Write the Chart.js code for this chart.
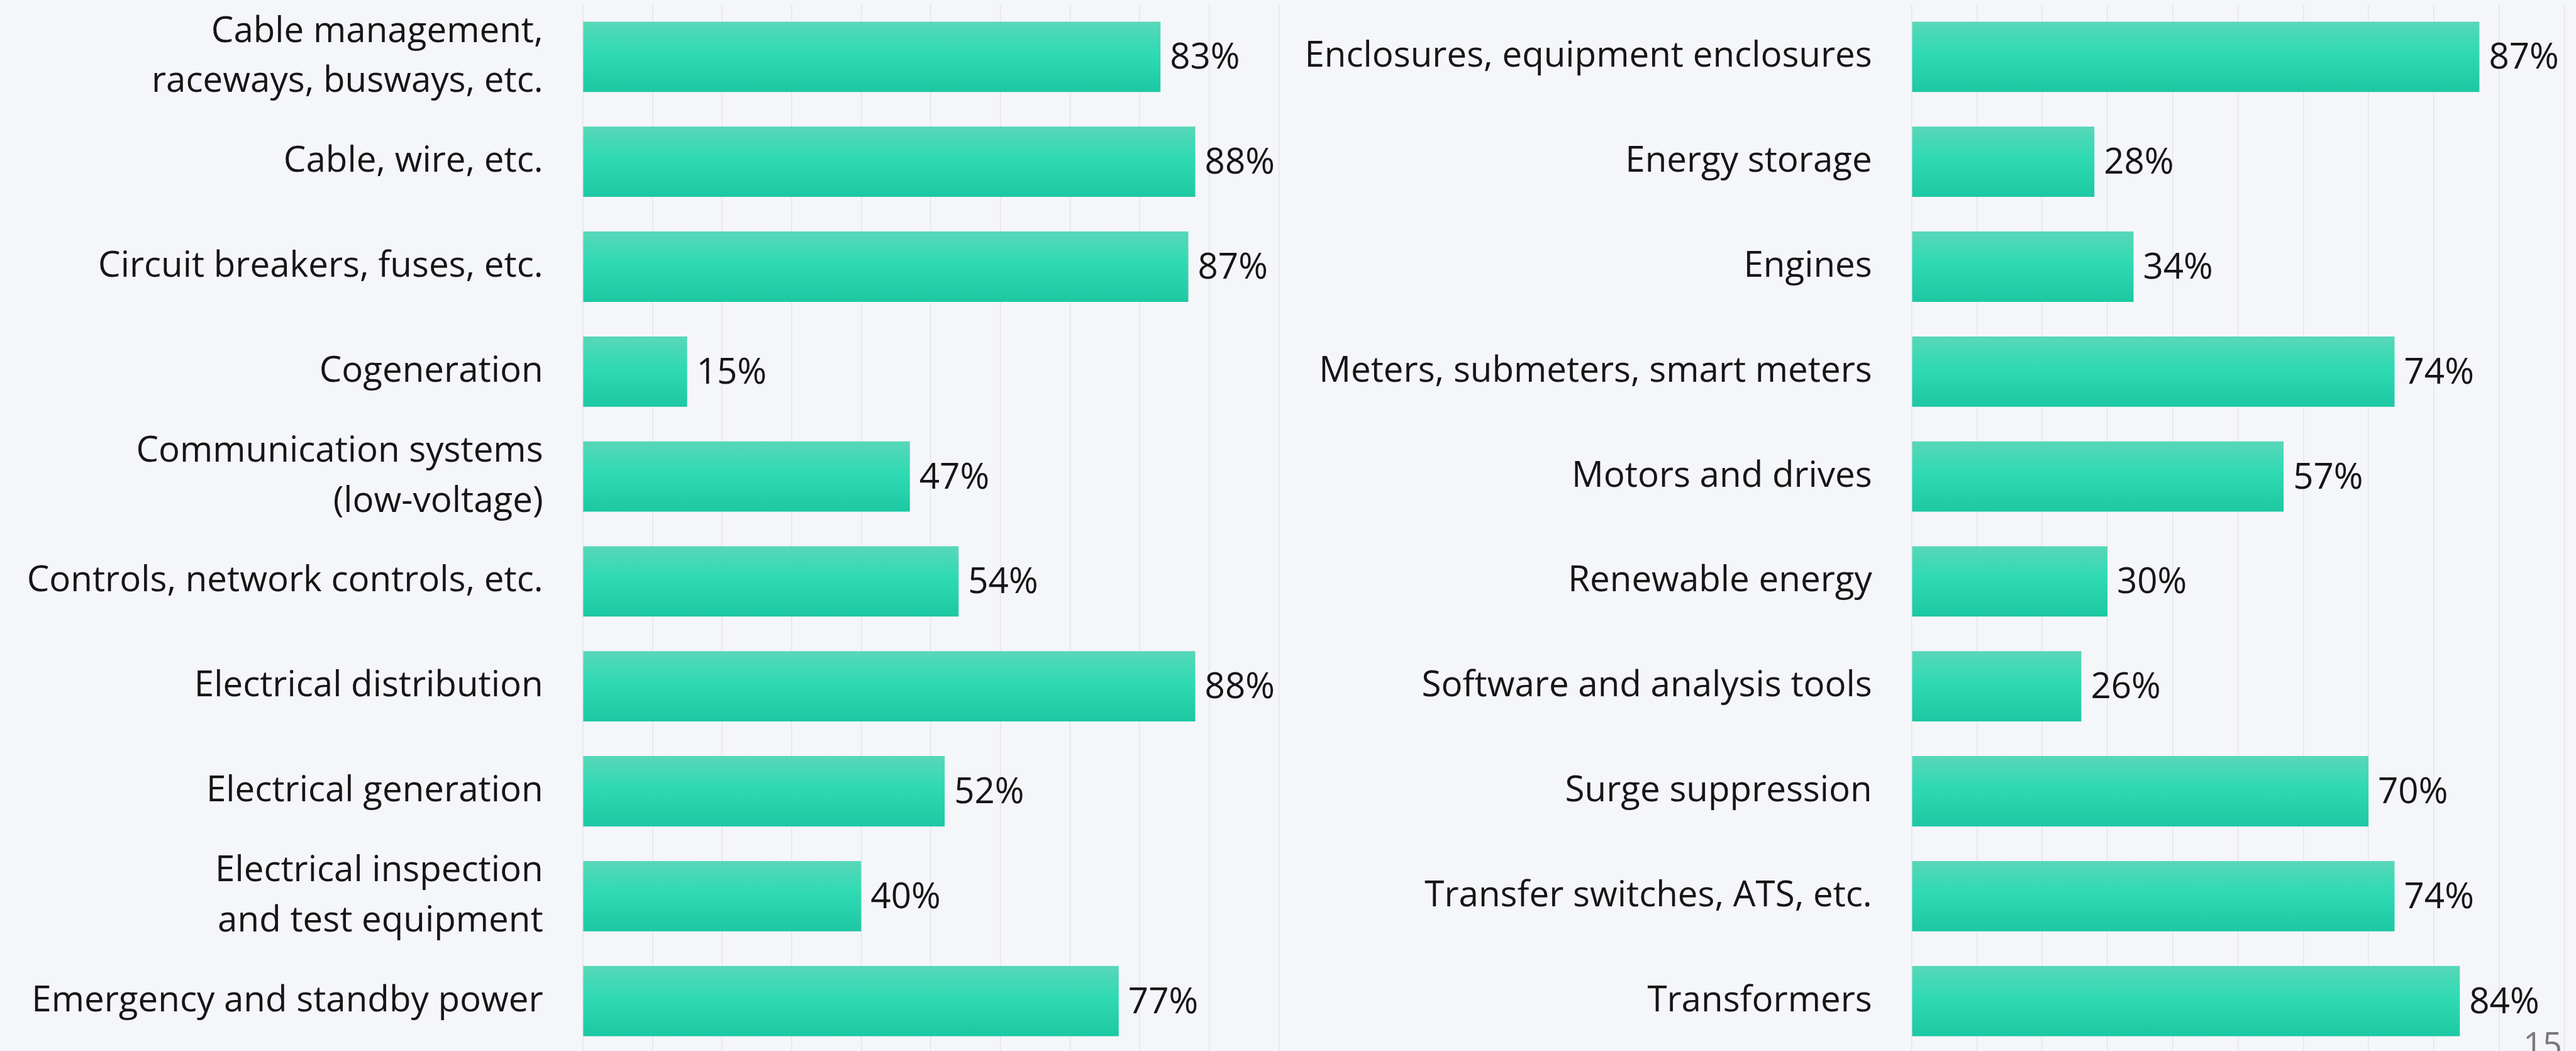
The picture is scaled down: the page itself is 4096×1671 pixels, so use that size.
<!DOCTYPE html>
<html>
<head>
<meta charset="utf-8">
<script src="https://cdn.jsdelivr.net/npm/chart.js@4/dist/chart.umd.min.js"></script>
<style>
  html, body { margin: 0; padding: 0; background: #f5f6fa; overflow: hidden; }
  body { width: 4096px; height: 1671px; position: relative; }
  .painel { position: absolute; top: 0; height: 1680px; }
  #painelEsq { left: 0; width: 2100px; }
  #painelDir { left: 1900px; width: 2196px; }
  #pagina { position: absolute; left: 4012px; top: 1632px; font-family: "Open Sans", sans-serif;
            font-size: 54px; color: #7a7a7a; line-height: 1; }
</style>
</head>
<body>
<div class="painel" id="painelEsq"><canvas id="graficoEsq"></canvas></div>
<div class="painel" id="painelDir"><canvas id="graficoDir"></canvas></div>
<div id="pagina">15</div>
<script>
// Dados do gráfico (lado esquerdo)
const categoriasEsq = [
    ['Cable management,', 'raceways, busways, etc.'],
    'Cable, wire, etc.',
    'Circuit breakers, fuses, etc.',
    'Cogeneration',
    ['Communication systems', '(low-voltage)'],
    'Controls, network controls, etc.',
    'Electrical distribution',
    'Electrical generation',
    ['Electrical inspection', 'and test equipment'],
    'Emergency and standby power'
];
const valoresEsq = [83, 88, 87, 15, 47, 54, 88, 52, 40, 77];

// Dados do gráfico (lado direito)
const categoriasDir = [
    'Enclosures, equipment enclosures',
    'Energy storage',
    'Engines',
    'Meters, submeters, smart meters',
    'Motors and drives',
    'Renewable energy',
    'Software and analysis tools',
    'Surge suppression',
    'Transfer switches, ATS, etc.',
    'Transformers'
];
const valoresDir = [87, 28, 34, 74, 57, 30, 26, 70, 74, 84];

const FONTE = '"Open Sans", "Noto Sans", sans-serif';
const TAM_FONTE = 56.5;
const COR_TEXTO = '#161616';
const LARGURA_BARRA = 0.67;

// Gradiente vertical de cada barra
function corBarra(ctx) {
    const chart = ctx.chart;
    const y = chart.scales.y;
    if (!chart.chartArea || !y || ctx.dataIndex === undefined) return '#2ed9b2';
    const centro = y.getPixelForValue(ctx.dataIndex);
    const meia = (y.height / chart.data.labels.length) * LARGURA_BARRA / 2;
    const g = chart.ctx.createLinearGradient(0, centro - meia, 0, centro + meia);
    g.addColorStop(0, '#58d7b9');
    g.addColorStop(0.45, '#2fdab3');
    g.addColorStop(1, '#1cc8a3');
    return g;
}

// Plugin simples para escrever os valores na ponta das barras
const rotulosValor = {
    id: 'rotulosValor',
    afterDatasetsDraw(chart) {
        const ctx = chart.ctx;
        const meta = chart.getDatasetMeta(0);
        ctx.save();
        ctx.font = TAM_FONTE + 'px ' + FONTE;
        ctx.fillStyle = COR_TEXTO;
        ctx.textAlign = 'left';
        ctx.textBaseline = 'middle';
        meta.data.forEach((barra, i) => {
            ctx.fillText(chart.data.datasets[0].data[i] + '%', barra.x + 15, barra.y + 3);
        });
        ctx.restore();
    }
};

function criarGrafico(idCanvas, categorias, valores, larguraEixo, padDireita) {
    const ctx = document.getElementById(idCanvas).getContext('2d');
    const grafico = new Chart(ctx, {
        type: 'bar',
        data: {
            labels: categorias,
            datasets: [{
                data: valores,
                backgroundColor: corBarra,
                borderWidth: 0,
                barPercentage: LARGURA_BARRA,
                categoryPercentage: 1
            }]
        },
        options: {
            indexAxis: 'y',
            responsive: true,
            maintainAspectRatio: false,
            devicePixelRatio: 1,
            animation: false,
            layout: { padding: { top: 7, bottom: 5, left: 0, right: padDireita } },
            plugins: {
                legend: { display: false },
                tooltip: { enabled: false }
            },
            scales: {
                x: {
                    min: 0,
                    max: 100,
                    ticks: { display: false, stepSize: 10 },
                    grid: { color: '#e3e5ea', lineWidth: 1.5, drawTicks: false },
                    border: { display: false },
                    afterFit(scale) {
                        scale.height = 0;
                        scale.paddingLeft = 0;
                        scale.paddingRight = 0;
                    }
                },
                y: {
                    grid: { display: false, drawTicks: false },
                    border: { display: false },
                    ticks: {
                        color: COR_TEXTO,
                        padding: 63,
                        font: { family: FONTE, size: TAM_FONTE, lineHeight: 1.41 }
                    },
                    afterFit(scale) {
                        scale.width = larguraEixo;
                        scale.paddingTop = 0;
                        scale.paddingBottom = 0;
                    }
                }
            }
        },
        plugins: [rotulosValor]
    });
    grafico.update();
    return grafico;
}

document.addEventListener('DOMContentLoaded', () => {
    criarGrafico('graficoEsq', categoriasEsq, valoresEsq, 926.6, 2100 - 2033.4);
    criarGrafico('graficoDir', categoriasDir, valoresDir, 3039.7 - 1900, 18.7);
});
</script>
</body>
</html>
